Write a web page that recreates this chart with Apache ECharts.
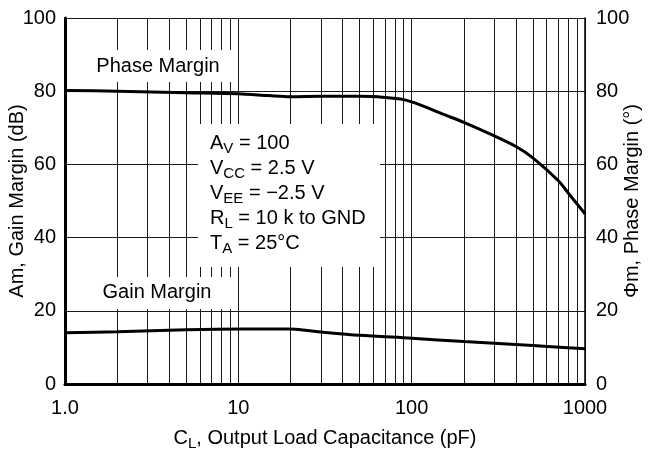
<!DOCTYPE html>
<html><head><meta charset="utf-8">
<script src="https://cdn.jsdelivr.net/npm/echarts@6/dist/echarts.min.js"></script>
<style>html,body{margin:0;padding:0;background:#fff}#c{width:648px;height:451px}</style>
</head><body><div id="c"></div>
<script>
// Data
const phaseC   = [1, 2, 5, 10, 15, 20, 30, 50, 70, 90, 110, 150, 200, 300, 400, 500, 700, 800, 1000];
const phaseVal = [80.2, 80.0, 79.6, 79.3, 78.8, 78.5, 78.6, 78.6, 78.3, 77.7, 76.4, 73.8, 71.5, 67.8, 64.9, 61.8, 55.6, 52.2, 46.5];
const gainC    = [1, 2, 5, 10, 20, 25, 30, 50, 100, 200, 500, 1000];
const gainVal  = [14.0, 14.3, 14.8, 15.0, 15.0, 14.6, 14.2, 13.3, 12.5, 11.6, 10.5, 9.6];
const minorGrid = [2,3,4,5,6,7,8,9,20,30,40,50,60,70,80,90,200,300,400,500,600,700,800,900];
const yTicks = [0, 20, 40, 60, 80, 100];
const paramLines = [
  ['A', 'V', ' = 100'],
  ['V', 'CC', ' = 2.5 V'],
  ['V', 'EE', ' = \u22122.5 V'],
  ['R', 'L', ' = 10 k to GND'],
  ['T', 'A', ' = 25\u00B0C']
];

const FONT = '"Liberation Sans", Arial, Helvetica, sans-serif';
const FS = 20;
const gridColor = '#1a1a1a';
const chart = echarts.init(document.getElementById('c'), null, {renderer: 'canvas'});

const richBase = {
  n: {fontFamily: FONT, fontSize: FS, color: '#000', lineHeight: 25},
  s: {fontFamily: FONT, fontSize: 15, color: '#000', lineHeight: 17, verticalAlign: 'bottom'}
};
const paramText = paramLines.map(l => `{n|${l[0]}}{s|${l[1]}}{n|${l[2]}}`).join('\n');

const option = {
  animation: false,
  backgroundColor: '#fff',
  grid: {left: 65, right: 63, top: 18, bottom: 67, containLabel: false, outerBoundsMode: 'none'},
  xAxis: {
    type: 'log', logBase: 10, min: 1, max: 1000,
    axisLine: {show: true, lineStyle: {color: '#000', width: 3}},
    axisTick: {show: false},
    splitLine: {show: true, lineStyle: {color: gridColor, width: 1}},
    axisLabel: {fontFamily: FONT, fontSize: FS, color: '#000', margin: 14,
      formatter: v => (v === 1 ? '1.0' : String(v))},
    name: '{n|C}{s|L}{n|, Output Load Capacitance (pF)}',
    nameLocation: 'middle', nameGap: 42, nameMoveOverlap: false,
    nameTextStyle: {rich: richBase}
  },
  yAxis: [{
    type: 'value', min: yTicks[0], max: yTicks[yTicks.length - 1], interval: 20, position: 'left',
    axisLine: {show: true, lineStyle: {color: '#000', width: 3}},
    axisTick: {show: false},
    splitLine: {show: true, lineStyle: {color: gridColor, width: 1}},
    axisLabel: {fontFamily: FONT, fontSize: FS, color: '#000', margin: 9},
    name: 'Am, Gain Margin (dB)', nameLocation: 'middle', nameGap: 38, nameRotate: 90, nameMoveOverlap: false,
    nameTextStyle: {fontFamily: FONT, fontSize: FS, color: '#000'}
  }, {
    type: 'value', min: yTicks[0], max: yTicks[yTicks.length - 1], interval: 20, position: 'right',
    axisLine: {show: true, lineStyle: {color: '#000', width: 1.5}},
    axisTick: {show: false},
    splitLine: {show: false},
    axisLabel: {fontFamily: FONT, fontSize: FS, color: '#000', margin: 11},
    name: '\u03A6m, Phase Margin (\u00B0)', nameLocation: 'middle', nameGap: 37, nameRotate: 90, nameMoveOverlap: false,
    nameTextStyle: {fontFamily: FONT, fontSize: FS, color: '#000'}
  }],
  series: [{
    name: 'Phase Margin', type: 'line', yAxisIndex: 1,
    data: phaseC.map((c, i) => [c, phaseVal[i]]),
    showSymbol: false, smooth: 0.3,
    lineStyle: {color: '#000', width: 3},
    z: 5,
    markLine: {
      silent: true, symbol: 'none', animation: false,
      label: {show: false},
      lineStyle: {color: gridColor, width: 1, type: 'solid'},
      data: minorGrid.map(v => ({xAxis: v}))
    }
  }, {
    name: 'Gain Margin', type: 'line', yAxisIndex: 0,
    data: gainC.map((c, i) => [c, gainVal[i]]),
    showSymbol: false, smooth: 0.3,
    lineStyle: {color: '#000', width: 3},
    z: 5
  }],
  graphic: [
    {type: 'rect', z: 10, shape: {x: 88, y: 50, width: 148, height: 32}, style: {fill: '#fff'}},
    {type: 'text', z: 11, style: {x: 158, y: 66, text: 'Phase Margin', font: FS + 'px ' + FONT, fill: '#000', align: 'center', verticalAlign: 'middle'}},
    {type: 'rect', z: 10, shape: {x: 90, y: 277, width: 146, height: 32}, style: {fill: '#fff'}},
    {type: 'text', z: 11, style: {x: 157, y: 292, text: 'Gain Margin', font: FS + 'px ' + FONT, fill: '#000', align: 'center', verticalAlign: 'middle'}},
    {type: 'rect', z: 10, shape: {x: 198, y: 124, width: 182, height: 143}, style: {fill: '#fff'}},
    {type: 'text', z: 11, style: {x: 210, y: 131, text: paramText, rich: richBase, fill: '#000', align: 'left', verticalAlign: 'top'}}
  ]
};
chart.setOption(option);
</script>
</body></html>
